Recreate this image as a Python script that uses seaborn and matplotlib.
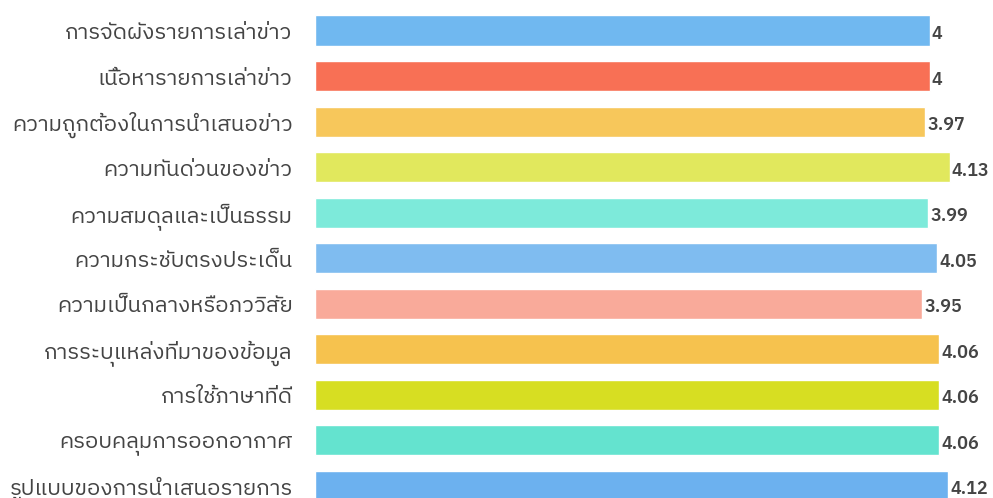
import matplotlib
matplotlib.use('Agg')
import matplotlib.pyplot as plt
from matplotlib import font_manager
import pandas as pd
import seaborn as sns

# --- Data ---
CATEGORIES = [
    'การจัดผังรายการเล่าข่าว',
    'เนื้อหารายการเล่าข่าว',
    'ความถูกต้องในการนำเสนอข่าว',
    'ความทันด่วนของข่าว',
    'ความสมดุลและเป็นธรรม',
    'ความกระชับตรงประเด็น',
    'ความเป็นกลางหรือภววิสัย',
    'การระบุแหล่งที่มาของข้อมูล',
    'การใช้ภาษาที่ดี',
    'ครอบคลุมการออกอากาศ',
    'รูปแบบของการนำเสนอรายการ',
]
SCORES = [4, 4, 3.97, 4.13, 3.99, 4.05, 3.95, 4.06, 4.06, 4.06, 4.12]
VALUE_LABELS = ['4', '4', '3.97', '4.13', '3.99', '4.05', '3.95', '4.06', '4.06', '4.06', '4.12']
COLORS = ['#70b8f0', '#f87055', '#f7c75b', '#e1e85d', '#7deada', '#7fbcf0',
          '#f9aa9a', '#f6c24e', '#d7de22', '#64e3cf', '#6cb1ef']

df = pd.DataFrame({'item': CATEGORIES, 'score': SCORES})

# --- Fonts: find anything that can draw Thai ---
names = sorted({f.name for f in font_manager.fontManager.ttflist})
thai = [n for n in names if 'thai' in n.lower() or n in ('Loma', 'Garuda', 'Kinnari', 'Norasi', 'Sarabun', 'Kanit', 'Prompt')]
print('Thai fonts:', thai)

sns.set_theme(style='white')
plt.rcParams['font.family'] = thai + ['DejaVu Sans']

fig = plt.figure(figsize=(9.93, 4.98), dpi=100)
ax = fig.add_axes([0.317, 0.0, 0.681, 1.0])

sns.barplot(data=df, x='score', y='item', hue='item', palette=COLORS,
            legend=False, width=0.66, edgecolor='white', linewidth=1.0,
            saturation=1, ax=ax)

# value labels just right of each bar
for i, (v, lab) in enumerate(zip(SCORES, VALUE_LABELS)):
    ax.text(v + 0.015, i + 0.08, lab, va='center', ha='left',
            fontsize=13, color='#444444', fontweight='semibold')

ax.set_xlim(0, 4.4)
ax.set_ylim(10.27, -0.67)
ax.set_xlabel('')
ax.set_ylabel('')
ax.set_xticks([])
ax.tick_params(axis='y', length=0, pad=16, labelsize=16, labelcolor='#444444')
sns.despine(ax=ax, left=True, bottom=True)

plt.savefig('out.png', dpi=100)
